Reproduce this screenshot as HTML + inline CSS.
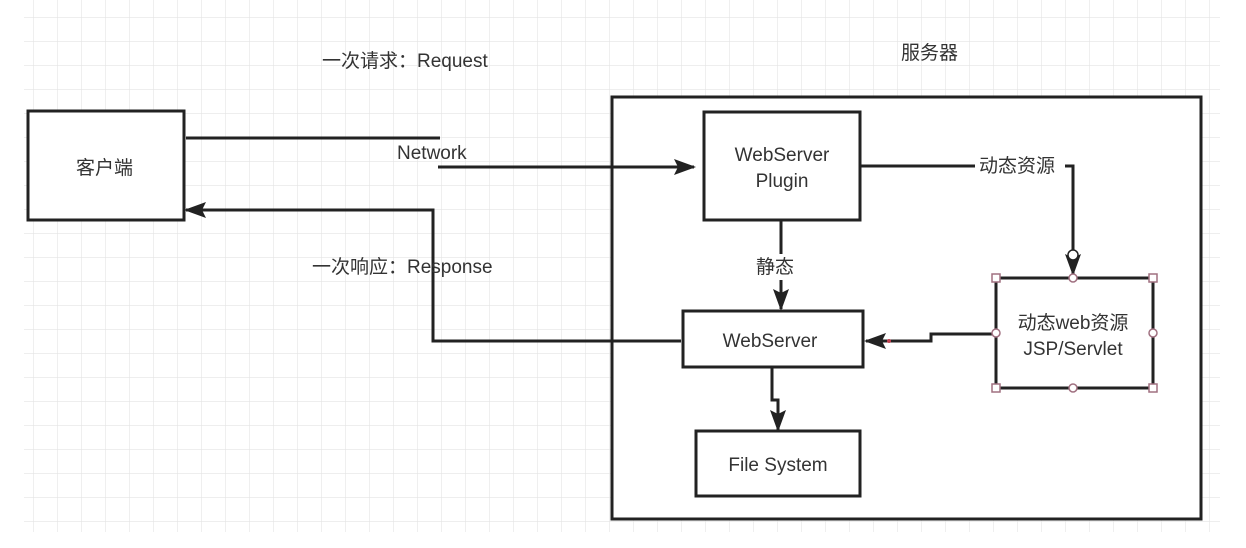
<!DOCTYPE html>
<html><head><meta charset="utf-8"><style>
html,body{margin:0;padding:0;background:#fff;}
svg{display:block;}
text{font-family:"Liberation Sans","Noto Sans CJK SC",sans-serif;fill:#333;font-size:19px;}
</style></head><body>
<svg width="1246" height="548" viewBox="0 0 1246 548">
<defs>
<pattern id="g" x="9" y="17" width="24" height="24" patternUnits="userSpaceOnUse">
<path d="M0 0H24M0 0V24" stroke="#e4e4e4" stroke-width="1.2" fill="none"/>
</pattern>
<marker id="a" markerWidth="22" markerHeight="16" refX="20" refY="8" orient="auto" markerUnits="userSpaceOnUse">
<path d="M0 0L22 8L0 16L4 8Z" fill="#222"/>
</marker>
</defs>
<rect x="24" y="0" width="1196" height="532" fill="url(#g)"/>
<g fill="#fff" stroke="#222" stroke-width="3">
<rect x="28" y="111" width="156" height="109"/>
<rect x="612" y="97" width="589" height="422"/>
<rect x="704" y="112" width="156" height="108"/>
<rect x="683" y="311" width="180" height="56"/>
<rect x="696" y="431" width="164" height="65"/>
<rect x="996" y="278" width="157" height="110"/>
</g>
<g fill="none" stroke="#222" stroke-width="3">
<path d="M186 138H440"/>
<path d="M438 167H694" marker-end="url(#a)"/>
<path d="M681 341H433V210H186" marker-end="url(#a)"/>
<path d="M860 166H1073V274" marker-end="url(#a)"/>
<path d="M781 220V309" marker-end="url(#a)"/>
<path d="M996 334H931V341H866" marker-end="url(#a)"/>
<path d="M772 367V400H778V430" marker-end="url(#a)"/>
</g>
<rect x="975" y="152" width="90" height="26" fill="#fff"/>
<rect x="752" y="254" width="58" height="26" fill="#fff"/>
<g fill="#fff" stroke="#a07080" stroke-width="1.5">
<rect x="992" y="274" width="8" height="8"/><rect x="1149" y="274" width="8" height="8"/>
<rect x="992" y="384" width="8" height="8"/><rect x="1149" y="384" width="8" height="8"/>
<circle cx="1073" cy="278" r="4"/><circle cx="1073" cy="388" r="4"/>
<circle cx="996" cy="333" r="4"/><circle cx="1153" cy="333" r="4"/>
<circle cx="1073" cy="255" r="5" stroke="#222"/>
</g>
<circle cx="889" cy="341" r="2" fill="#c04050"/>
<text x="322" y="67">一次请求：Request</text>
<text x="901" y="59">服务器</text>
<text x="76" y="174">客户端</text>
<text x="397" y="159">Network</text>
<text x="782" y="161" text-anchor="middle">WebServer</text>
<text x="782" y="187" text-anchor="middle">Plugin</text>
<text x="979" y="172">动态资源</text>
<text x="312" y="273">一次响应：Response</text>
<text x="756" y="273">静态</text>
<text x="770" y="347" text-anchor="middle">WebServer</text>
<text x="778" y="471" text-anchor="middle">File System</text>
<text x="1073" y="329" text-anchor="middle">动态web资源</text>
<text x="1073" y="355" text-anchor="middle">JSP/Servlet</text>
</svg>
</body></html>
